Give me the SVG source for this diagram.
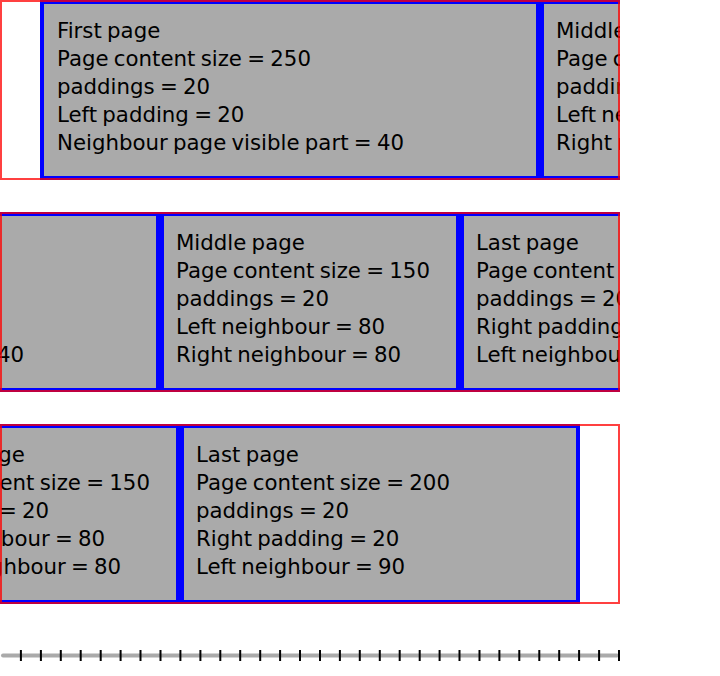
<svg xmlns="http://www.w3.org/2000/svg" width="720" height="676" viewBox="0 0 720 676">
<style>
.page rect{fill:#aaaaaa;stroke:#0000ff;stroke-width:4}
.page text{font-family:"DejaVu Sans","Noto Sans",sans-serif;font-size:21.3px;word-spacing:-1.5px;fill:#000}
.frame{fill:none;stroke:#ff0000;stroke-opacity:0.75;stroke-width:2}
.tick{stroke:#000;stroke-width:2}
</style>
<defs>
<clipPath id="c1"><rect x="0" y="0" width="620" height="180"/></clipPath>
<clipPath id="c2"><rect x="0" y="212" width="620" height="180"/></clipPath>
<clipPath id="c3"><rect x="0" y="424" width="620" height="180"/></clipPath>
</defs>
<g id="row1" clip-path="url(#c1)">
<g id="r1-first" class="page"><rect x="42" y="2" width="496" height="176"/>
<text x="57" y="38">First page</text><text x="57" y="66">Page content size = 250</text><text x="57" y="94">paddings = 20</text><text x="57" y="122">Left padding = 20</text><text x="57" y="150">Neighbour page visible part = 40</text></g>
<g id="r1-middle" class="page"><rect x="542" y="2" width="296" height="176"/>
<text x="556" y="38">Middle page</text><text x="556" y="66">Page content size = 150</text><text x="556" y="94">paddings = 20</text><text x="556" y="122">Left neighbour = 80</text><text x="556" y="150">Right neighbour = 80</text></g>
</g>
<rect id="frame1" class="frame" x="1" y="1" width="618" height="178"/>
<g id="row2" clip-path="url(#c2)">
<g id="r2-first" class="page"><rect x="-338" y="214" width="496" height="176"/>
<text x="-323" y="250">First page</text><text x="-323" y="278">Page content size = 250</text><text x="-323" y="306">paddings = 20</text><text x="-323" y="334">Left padding = 20</text><text x="-323" y="362">Neighbour page visible part = 40</text></g>
<g id="r2-middle" class="page"><rect x="162" y="214" width="296" height="176"/>
<text x="176" y="250">Middle page</text><text x="176" y="278">Page content size = 150</text><text x="176" y="306">paddings = 20</text><text x="176" y="334">Left neighbour = 80</text><text x="176" y="362">Right neighbour = 80</text></g>
<g id="r2-last" class="page"><rect x="462" y="214" width="396" height="176"/>
<text x="476" y="250">Last page</text><text x="476" y="278">Page content size = 200</text><text x="476" y="306">paddings = 20</text><text x="476" y="334">Right padding = 20</text><text x="476" y="362">Left neighbour = 90</text></g>
</g>
<rect id="frame2" class="frame" x="1" y="213" width="618" height="178"/>
<g id="row3" clip-path="url(#c3)">
<g id="r3-middle" class="page"><rect x="-118" y="426" width="296" height="176"/>
<text x="-104" y="462">Middle page</text><text x="-104" y="490">Page content size = 150</text><text x="-104" y="518">paddings = 20</text><text x="-104" y="546">Left neighbour = 80</text><text x="-104" y="574">Right neighbour = 80</text></g>
<g id="r3-last" class="page"><rect x="182" y="426" width="396" height="176"/>
<text x="196" y="462">Last page</text><text x="196" y="490">Page content size = 200</text><text x="196" y="518">paddings = 20</text><text x="196" y="546">Right padding = 20</text><text x="196" y="574">Left neighbour = 90</text></g>
</g>
<rect id="frame3" class="frame" x="1" y="425" width="618" height="178"/>
<g id="ruler">
<line x1="3" y1="655.5" x2="617" y2="655.5" stroke="#aaaaaa" stroke-width="4" stroke-linecap="round"/>
<path class="tick" d="M20.9 650V661M40.9 650V661M60.8 650V661M80.7 650V661M100.7 650V661M120.6 650V661M140.5 650V661M160.5 650V661M180.4 650V661M200.4 650V661M220.3 650V661M240.2 650V661M260.2 650V661M280.1 650V661M300 650V661M320 650V661M339.9 650V661M359.8 650V661M379.8 650V661M399.7 650V661M419.7 650V661M439.6 650V661M459.5 650V661M479.5 650V661M499.4 650V661M519.3 650V661M539.3 650V661M559.2 650V661M579.1 650V661M599.1 650V661M619 650V661"/>
</g>
</svg>
